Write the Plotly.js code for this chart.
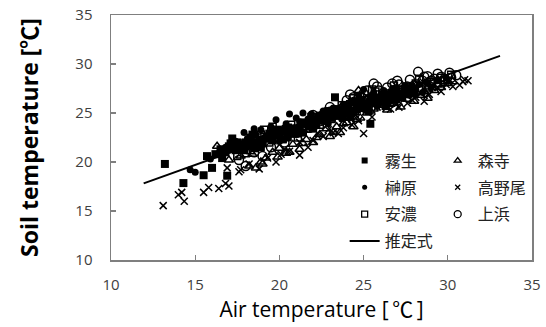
<!DOCTYPE html>
<html>
<head>
<meta charset="utf-8">
<script src="https://cdn.plot.ly/plotly-3.0.1.min.js"></script>
<style>html,body{margin:0;padding:0;background:#fff;}#chart{width:546px;height:327px;}</style>
</head>
<body>
<div id="chart"></div>
<script>
// 霧生
const kiryuX = [13.2, 14.3, 15.5, 15.7, 16.0, 16.9, 16.2, 16.5, 16.8, 17.0, 17.2, 17.4, 17.6, 17.8, 18.0, 18.2, 18.5, 18.8, 19.0, 19.3, 19.6, 20.0, 20.3, 20.7, 21.0, 21.4, 21.8, 22.1, 22.4, 22.7, 23.0, 23.3, 23.5, 23.8, 24.1, 24.4, 24.7, 25.0, 25.4, 25.6, 26.0, 26.4, 26.8, 27.2,
  21.2, 21.6, 22.0, 22.3, 22.6, 22.9, 23.1, 23.4, 23.7, 24.0, 24.3, 24.6, 24.9, 25.2, 25.5, 25.8, 26.1, 26.5, 26.9, 27.3, 27.7, 28.0, 18.4, 18.9, 19.4, 19.9, 20.5,
  16.6, 17.1, 17.5, 17.9, 18.3, 18.7, 19.2, 19.7, 20.2, 20.6, 21.1, 21.5, 21.9, 22.2, 22.8, 23.6, 24.2, 24.8, 25.3, 25.7, 26.3, 26.7];
const kiryuY = [19.8, 17.85, 18.65, 20.6, 19.4, 18.6, 20.8, 21.3, 21.0, 21.6, 22.4, 21.2, 21.8, 21.5, 22.0, 21.7, 21.4, 22.3, 21.9, 22.6, 22.2, 22.7, 23.1, 22.9, 23.4, 23.0, 23.6, 24.0, 24.6, 24.2, 25.0, 26.6, 24.7, 25.3, 25.6, 25.1, 26.0, 25.8, 23.9, 26.3, 26.5, 26.2, 26.8, 27.0,
  23.5, 23.9, 23.4, 24.3, 24.8, 25.2, 24.5, 25.4, 24.9, 25.5, 26.1, 25.4, 26.2, 25.9, 26.6, 26.0, 26.9, 26.3, 27.2, 26.6, 27.3, 27.0, 22.8, 21.5, 22.9, 23.3, 22.5,
  20.4, 21.9, 22.0, 21.2, 22.5, 22.0, 22.4, 23.0, 22.3, 23.4, 22.9, 24.0, 24.2, 23.8, 24.5, 25.1, 24.6, 25.5, 25.2, 26.2, 25.7, 26.4];
// 榊原
const sakakibaraX = [14.7, 15.0, 15.9, 16.4, 16.8, 17.3, 17.9, 18.3, 18.6, 18.9, 19.2, 19.5, 19.8, 20.1, 20.4, 20.6, 20.9, 21.2, 21.4, 21.7, 22.0, 22.3, 22.6, 22.9, 23.2, 23.5, 23.8, 24.1, 24.4, 24.7, 25.0, 25.3, 25.6, 25.9, 26.2, 26.5, 26.8, 27.1, 27.5, 27.9, 28.3, 28.7,
  22.1, 22.5, 22.9, 23.3, 23.7, 24.0, 24.3, 24.6, 25.1, 25.5, 25.8, 26.1, 26.4, 26.7, 27.0, 27.3, 27.7, 28.1, 28.5, 29.0, 17.5, 18.1, 19.0, 20.0, 20.8,
  17.0, 18.5, 19.4, 20.3, 21.0, 21.6, 21.9, 22.7, 23.0, 23.9, 24.2, 24.9, 25.4, 26.0, 26.6, 27.4, 27.9, 28.8, 29.4, 29.9];
const sakakibaraY = [19.2, 18.95, 20.3, 20.9, 21.5, 22.2, 23.0, 22.1, 22.8, 23.3, 22.6, 23.6, 24.3, 23.2, 23.9, 24.9, 23.5, 24.1, 25.0, 24.4, 24.0, 24.8, 25.2, 24.6, 25.5, 25.0, 25.9, 25.4, 26.3, 26.8, 27.4, 26.2, 27.1, 26.6, 27.3, 26.9, 27.5, 27.0, 27.7, 27.3, 27.9, 28.2,
  23.6, 24.5, 23.9, 24.7, 24.4, 25.1, 24.8, 25.7, 25.3, 26.0, 25.7, 26.4, 26.0, 26.7, 26.3, 27.0, 26.8, 27.4, 27.1, 27.6, 21.7, 22.4, 21.8, 22.1, 23.1,
  21.2, 23.4, 22.3, 23.5, 24.5, 23.8, 24.9, 25.0, 25.3, 24.9, 26.0, 25.9, 26.6, 26.8, 27.2, 27.6, 27.8, 28.0, 28.3, 28.6];
// 安濃
const anoX = [16.6, 17.1, 17.5, 17.9, 18.3, 18.7, 19.1, 19.4, 19.8, 20.2, 20.5, 20.9, 21.3, 21.6, 22.0, 22.4, 22.8, 23.1, 23.5, 23.9, 24.2, 24.5, 24.8, 25.1, 25.4, 25.7, 26.0, 26.3, 26.6, 26.9, 27.2, 27.5, 27.8, 28.1, 28.4, 28.7, 29.0, 29.4, 29.8,
  17.3, 18.0, 18.9, 19.6, 20.7, 21.1, 21.9, 22.6, 23.3, 23.7, 24.4, 25.0, 25.5, 26.1, 26.8, 27.3, 28.3, 28.9, 29.6, 30.2];
const anoY = [21.0, 21.4, 20.6, 21.9, 21.2, 22.5, 23.3, 22.0, 23.0, 22.4, 23.5, 22.9, 24.0, 23.4, 24.3, 23.8, 24.9, 24.4, 25.3, 24.8, 25.9, 25.2, 26.6, 25.6, 26.1, 27.2, 26.5, 27.0, 26.4, 27.4, 26.8, 27.7, 27.1, 28.0, 27.4, 27.8, 28.2, 28.0, 28.4,
  22.0, 20.9, 22.8, 23.6, 23.8, 22.5, 24.6, 24.3, 24.9, 25.8, 26.5, 25.8, 27.4, 26.2, 27.8, 27.4, 28.5, 27.6, 28.6, 28.9];
// 森寺
const morideraX = [16.3, 17.0, 17.7, 18.2, 18.6, 18.9, 19.2, 19.6, 20.0, 20.4, 20.8, 21.2, 21.6, 22.0, 22.4, 22.8, 23.2, 23.6, 24.0, 24.4, 24.8, 25.2, 25.6, 26.0, 26.4, 26.8, 27.2, 27.6, 28.0, 28.4, 28.8, 29.2, 29.6, 30.0, 24.7, 24.9,
  17.4, 18.4, 19.0, 19.9, 20.6, 21.4, 22.2, 23.0, 23.4, 23.8, 24.2, 24.6, 25.4, 25.8, 26.6, 27.0, 27.8, 28.6, 29.4, 30.3];
const morideraY = [21.6, 20.2, 20.6, 19.6, 19.4, 20.0, 20.4, 21.0, 21.4, 20.9, 21.8, 21.3, 22.3, 22.0, 22.8, 23.4, 23.0, 23.0, 24.0, 23.6, 24.5, 25.0, 25.4, 25.8, 25.3, 26.0, 25.6, 26.4, 26.2, 26.8, 26.5, 27.3, 27.6, 28.0, 27.3, 26.9,
  21.2, 20.8, 19.8, 20.5, 21.0, 21.9, 22.5, 22.6, 23.6, 23.9, 24.5, 24.3, 25.2, 26.1, 25.9, 26.5, 26.9, 27.2, 27.9, 28.2];
// 高野尾
const takanooX = [13.1, 14.0, 14.2, 14.35, 15.5, 15.8, 16.4, 16.8, 17.0, 16.9, 17.6, 17.7, 18.2, 18.8, 19.8, 20.1, 20.6, 21.2, 21.2, 22.0, 22.6, 23.2, 23.8, 24.3, 24.7, 25.0, 25.5, 26.1, 26.6, 27.1, 27.6, 28.1, 28.6, 29.1, 29.6, 30.3, 30.7, 30.9, 31.2, 31.0,
  19.3, 20.3, 21.7, 22.3, 22.9, 23.5, 24.0, 24.5, 25.3, 25.8, 26.4, 26.9, 27.4, 27.9, 28.4, 28.9, 29.4, 29.9, 30.1];
const takanooY = [15.55, 16.65, 16.9, 16.0, 16.9, 17.4, 17.3, 17.8, 17.55, 19.4, 19.0, 19.2, 19.8, 19.3, 20.0, 20.8, 21.1, 20.7, 22.0, 22.2, 22.6, 23.0, 23.5, 23.8, 24.2, 22.9, 24.6, 25.8, 25.4, 25.6, 26.0, 26.6, 26.2, 27.6, 27.2, 27.7, 27.85, 28.2, 28.3, 28.4,
  20.4, 21.3, 21.5, 22.9, 23.3, 22.9, 24.4, 24.8, 25.3, 25.6, 26.0, 25.9, 26.4, 26.3, 27.0, 26.9, 27.6, 27.9, 28.4];
// 上浜
const kamihamaX = [17.6, 18.0, 18.5, 19.0, 19.5, 20.3, 21.0, 21.8, 22.5, 23.2, 23.8, 24.2, 24.6, 25.0, 25.3, 25.6, 25.9, 26.2, 26.7, 26.8, 27.1, 27.4, 27.75, 28.0, 28.24, 28.5, 28.8, 29.2, 29.6, 30.1, 30.2, 30.5,
  22.0, 23.0, 24.0, 24.4, 25.2, 25.8, 26.4, 27.0, 27.6, 28.6, 29.0, 29.4, 29.8];
const kamihamaY = [20.2, 19.6, 21.0, 20.6, 21.5, 22.0, 23.0, 23.5, 24.2, 24.8, 25.6, 26.9, 26.1, 27.0, 26.4, 28.0, 27.3, 26.8, 28.0, 27.2, 27.9, 27.4, 28.4, 27.8, 29.2, 28.3, 28.76, 28.5, 28.7, 29.1, 28.6, 28.86,
  24.8, 25.6, 26.3, 26.6, 27.3, 27.7, 27.6, 28.3, 27.7, 28.7, 28.3, 29.0, 28.2];
// 推定式
const fitX = [11.94, 33.1];
const fitY = [17.82, 30.83];

const names = ['霧生', '榊原', '安濃', '森寺', '高野尾', '上浜', '推定式'];
const xTicks = [10, 15, 20, 25, 30, 35];
const yTicks = [10, 15, 20, 25, 30, 35];

const FONT = '"Open Sans", "Noto Sans CJK JP", sans-serif';
const JP = '"Noto Sans CJK JP", "Open Sans", sans-serif';

const series = [
  {name: names[0], x: kiryuX, y: kiryuY, symbol: 'square', size: 8, lsize: 6, legend: 'legend', filled: true},
  {name: names[1], x: sakakibaraX, y: sakakibaraY, symbol: 'circle', size: 7, lsize: 5, legend: 'legend', filled: true},
  {name: names[2], x: anoX, y: anoY, symbol: 'square-open', size: 7, lsize: 6, legend: 'legend', filled: false},
  {name: names[3], x: morideraX, y: morideraY, symbol: 'triangle-up-open', size: 8, lsize: 6, legend: 'legend2', filled: false},
  {name: names[4], x: takanooX, y: takanooY, symbol: 'x-thin-open', size: 7, lsize: 5, legend: 'legend2', filled: false},
  {name: names[5], x: kamihamaX, y: kamihamaY, symbol: 'circle-open', size: 9, lsize: 7, legend: 'legend2', filled: false}
];

const data = [];
series.forEach(s => {
  data.push({
    type: 'scatter', mode: 'markers', name: s.name, x: s.x, y: s.y, showlegend: false,
    marker: {symbol: s.symbol, size: s.size, color: '#000', line: {color: '#000', width: s.filled ? 0 : 1.5}}
  });
});
data.push({type: 'scatter', mode: 'lines', name: names[6], x: fitX, y: fitY, showlegend: false,
  line: {color: '#000', width: 2}});
// legend-only entries (smaller symbols, as in the original legend)
series.forEach(s => {
  data.push({
    type: 'scatter', mode: 'markers', name: s.name, x: [null], y: [null],
    legend: s.legend, legendgroup: s.name,
    marker: {symbol: s.symbol, size: s.lsize, color: '#000', line: {color: '#000', width: s.filled ? 0 : 1.3}}
  });
});
data.push({type: 'scatter', mode: 'lines', name: names[6], x: [null], y: [null], legend: 'legend', legendgroup: names[6],
  line: {color: '#000', width: 2}});

const axisBase = {
  range: [10, 35], tickmode: 'array', showgrid: false, zeroline: false,
  ticks: 'inside', ticklen: 5, tickwidth: 1.2, tickcolor: '#7f7f7f',
  showline: true, mirror: true, linecolor: '#7f7f7f', linewidth: 1.5,
  tickfont: {family: FONT, size: 15, color: '#404040'}
};

const legendBase = {
  bgcolor: 'rgba(0,0,0,0)', borderwidth: 0, yanchor: 'top', xanchor: 'left',
  font: {family: JP, size: 16, color: '#222'}, tracegroupgap: 3, itemclick: false
};

const layout = {
  width: 546, height: 327,
  margin: {l: 111, r: 14, t: 15, b: 67},
  paper_bgcolor: '#fff', plot_bgcolor: '#fff',
  showlegend: true,
  xaxis: Object.assign({}, axisBase, {
    tickvals: xTicks, ticktext: xTicks.map(String), ticklabelstandoff: 10,
    title: {text: 'Air temperature [\u2009℃\u2009]\u3000\u2002', font: {family: FONT, size: 21, color: '#000'}, standoff: 10}
  }),
  yaxis: Object.assign({}, axisBase, {
    tickvals: yTicks, ticktext: yTicks.map(String), ticklabelstandoff: 14,
    title: {text: '<b>Soil temperature [℃]</b>', font: {family: FONT, size: 23, color: '#000'}, standoff: 30}
  }),
  legend: Object.assign({}, legendBase, {x: 0.555, y: 0.475}),
  legend2: Object.assign({}, legendBase, {x: 0.776, y: 0.475})
};

Plotly.newPlot('chart', data, layout, {displayModeBar: false, staticPlot: true});
</script>
</body>
</html>
